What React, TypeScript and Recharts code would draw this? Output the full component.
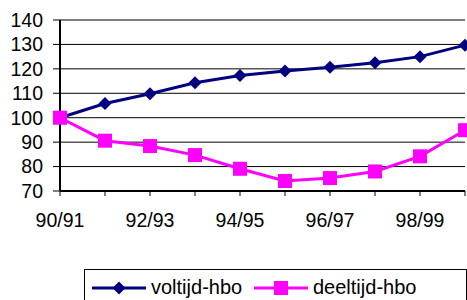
import React from 'react';
import { LineChart, Line, XAxis, YAxis, CartesianGrid } from 'recharts';

const YEARS = ['90/91', '91/92', '92/93', '93/94', '94/95', '95/96', '96/97', '97/98', '98/99', '99/00'];
const VOLTIJD = [100, 105.8, 109.8, 114.3, 117.3, 119.1, 120.7, 122.5, 125, 129.7];
const DEELTIJD = [100, 90.6, 88.4, 84.7, 79.1, 74.1, 75.3, 78, 84.2, 94.9];
const Y_TICKS = [70, 80, 90, 100, 110, 120, 130, 140];

const NAVY = '#000080';
const MAGENTA = '#ff00ff';
const FONT = '"Liberation Sans", Arial, sans-serif';

const data = YEARS.map((year, i) => ({ year, voltijd: VOLTIJD[i], deeltijd: DEELTIJD[i] }));

const Diamond = (props: any) => {
  const { cx, cy, index } = props;
  const r = 6.5;
  return (
    <polygon
      key={`d-${index}`}
      points={`${cx},${cy - r} ${cx + r},${cy} ${cx},${cy + r} ${cx - r},${cy}`}
      fill={NAVY}
    />
  );
};

const Square = (props: any) => {
  const { cx, cy, index } = props;
  const s = 7;
  return <rect key={`s-${index}`} x={cx - s} y={cy - s} width={s * 2} height={s * 2} fill={MAGENTA} />;
};

const tick = { fill: '#000', fontSize: 19.5, fontFamily: FONT };

const App: React.FC = () => {
  return (
    <div style={{ position: 'absolute', left: 0, top: 0, width: 467, height: 300, background: '#fff', overflow: 'hidden' }}>
      <LineChart width={467} height={300} data={data} margin={{ top: 20, right: 2, bottom: 69, left: 0 }}>
        <CartesianGrid vertical={false} stroke="#000" strokeWidth={1} />
        <XAxis
          dataKey="year"
          interval={0}
          tickFormatter={(v: string, i: number) => (i % 2 === 0 ? v : '')}
          axisLine={{ stroke: '#000', strokeWidth: 2 }}
          tickLine={{ stroke: '#000', strokeWidth: 1 }}
          tickSize={5}
          tickMargin={17}
          height={40}
          tick={tick}
        />
        <YAxis
          domain={[70, 140]}
          ticks={Y_TICKS}
          interval={0}
          width={60}
          axisLine={{ stroke: '#000', strokeWidth: 2 }}
          tickLine={{ stroke: '#000', strokeWidth: 1 }}
          tickSize={7}
          tickMargin={10}
          tick={tick}
        />
        <Line dataKey="voltijd" stroke={NAVY} strokeWidth={3} dot={Diamond} isAnimationActive={false} />
        <Line dataKey="deeltijd" stroke={MAGENTA} strokeWidth={3} dot={Square} isAnimationActive={false} />
      </LineChart>
      <div
        style={{
          position: 'absolute',
          left: 84,
          top: 269,
          width: 383,
          height: 40,
          border: '1px solid #000',
          boxSizing: 'border-box',
          fontFamily: FONT,
          fontSize: 20,
          color: '#000',
        }}
      >
        <svg style={{ position: 'absolute', left: 7, top: 10 }} width={56} height={16}>
          <line x1={0} y1={8} x2={54} y2={8} stroke={NAVY} strokeWidth={3} />
          <polygon points="27,1.5 33.5,8 27,14.5 20.5,8" fill={NAVY} />
        </svg>
        <span style={{ position: 'absolute', left: 66, top: 5, lineHeight: '24px' }}>voltijd-hbo</span>
        <svg style={{ position: 'absolute', left: 169, top: 10 }} width={56} height={16}>
          <line x1={0} y1={8} x2={54} y2={8} stroke={MAGENTA} strokeWidth={3} />
          <rect x={20} y={1} width={14} height={14} fill={MAGENTA} />
        </svg>
        <span style={{ position: 'absolute', left: 228, top: 5, lineHeight: '24px' }}>deeltijd-hbo</span>
      </div>
    </div>
  );
};

export default App;
